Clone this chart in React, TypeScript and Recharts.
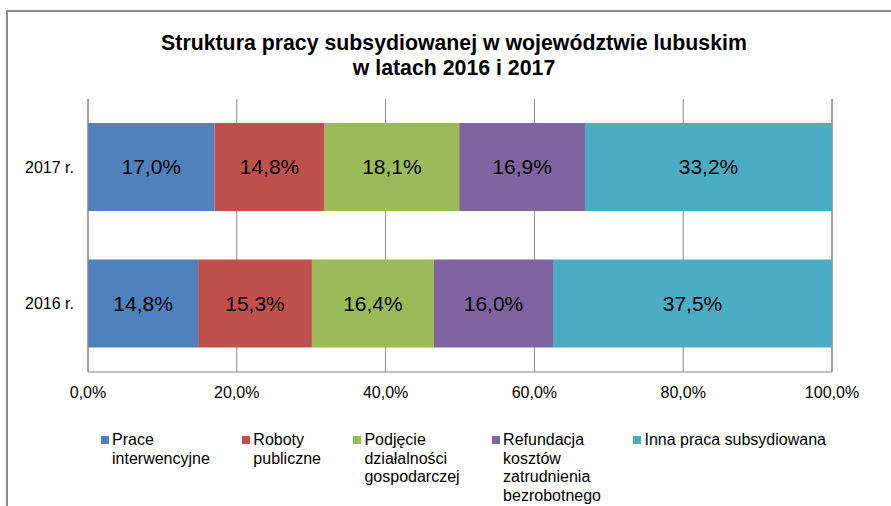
import { BarChart, Bar, XAxis, YAxis, CartesianGrid, LabelList } from "recharts";

const CATEGORIES = ["2017 r.", "2016 r."];
const SERIES_KEYS = ["prace", "roboty", "podjecie", "refundacja", "inna"];
const SERIES_NAMES = [
  "Prace interwencyjne",
  "Roboty publiczne",
  "Podjęcie działalności gospodarczej",
  "Refundacja kosztów zatrudnienia bezrobotnego",
  "Inna praca subsydiowana",
];
const SERIES_COLORS = ["#4f81bd", "#c0504d", "#9bbb59", "#8064a2", "#4bacc6"];
const VALUES_2017 = [17.0, 14.8, 18.1, 16.9, 33.2];
const VALUES_2016 = [14.8, 15.3, 16.4, 16.0, 37.5];
const X_TICKS = [0, 20, 40, 60, 80, 100];

const ROWS = [VALUES_2017, VALUES_2016];
const DATA = CATEGORIES.map((year, i) => {
  const row: Record<string, string | number> = { year };
  SERIES_KEYS.forEach((k, j) => {
    row[k] = ROWS[i][j];
  });
  return row;
});

const FONT = '"Liberation Sans", Arial, sans-serif';
const GRID = "#868686";
const pct = (v: number) => Number(v).toFixed(1).replace(".", ",") + "%";

export default function App() {
  return (
    <div
      style={{
        position: "absolute",
        left: 0,
        top: 0,
        width: 891,
        height: 506,
        overflow: "hidden",
        background: "#fff",
        fontFamily: FONT,
      }}
    >
      {/* chart frame, cropped on the right and bottom */}
      <div
        style={{
          position: "absolute",
          left: 6,
          top: 10,
          width: 1000,
          height: 1000,
          border: "2px solid #8c8c8c",
        }}
      />

      {/* title */}
      <div
        style={{
          position: "absolute",
          left: 154,
          top: 31,
          width: 600,
          textAlign: "center",
          fontSize: 21.3,
          fontWeight: "bold",
          lineHeight: "25px",
          color: "#000",
        }}
      >
        Struktura pracy subsydiowanej w województwie lubuskim
        <br />w latach 2016 i 2017
      </div>

      <div style={{ position: "absolute", left: 0, top: 0 }}>
        <BarChart
          width={891}
          height={420}
          data={DATA}
          layout="vertical"
          margin={{ top: 99, right: 59, bottom: 18, left: 0 }}
          barSize={88}
        >
          <CartesianGrid horizontal={false} stroke={GRID} />
          <XAxis
            type="number"
            domain={[0, 100]}
            ticks={X_TICKS}
            interval={0}
            tickFormatter={pct}
            axisLine={{ stroke: GRID }}
            tickLine={false}
            tickMargin={9}
            height={30}
            tick={{ fill: "#000", fontSize: 16, fontFamily: FONT }}
          />
          <YAxis
            type="category"
            dataKey="year"
            width={88}
            axisLine={{ stroke: GRID }}
            tickLine={false}
            tickMargin={8}
            tick={{ fill: "#000", fontSize: 16, fontFamily: FONT }}
          />
          {SERIES_KEYS.map((k, i) => (
            <Bar
              key={k}
              dataKey={k}
              name={SERIES_NAMES[i]}
              stackId="a"
              fill={SERIES_COLORS[i]}
              isAnimationActive={false}
            >
              <LabelList
                dataKey={k}
                position="center"
                formatter={(v: number) => pct(v)}
                style={{ fill: "#000", fontSize: 21, fontFamily: FONT }}
              />
            </Bar>
          ))}
        </BarChart>
      </div>

      {/* legend */}
      <div
        style={{
          position: "absolute",
          left: 101,
          top: 431,
          display: "flex",
          gap: 32.5,
          fontSize: 16,
          lineHeight: "18.5px",
          color: "#000",
        }}
      >
        {SERIES_NAMES.map((name, i) => (
          <div key={name} style={{ display: "flex", alignItems: "flex-start" }}>
            <span
              style={{
                display: "inline-block",
                width: 8,
                height: 8,
                marginTop: 5,
                marginRight: 3,
                background: SERIES_COLORS[i],
              }}
            />
            <span
              style={
                i === SERIES_NAMES.length - 1
                  ? { whiteSpace: "nowrap" }
                  : { width: "min-content" }
              }
            >
              {name}
            </span>
          </div>
        ))}
      </div>
    </div>
  );
}
